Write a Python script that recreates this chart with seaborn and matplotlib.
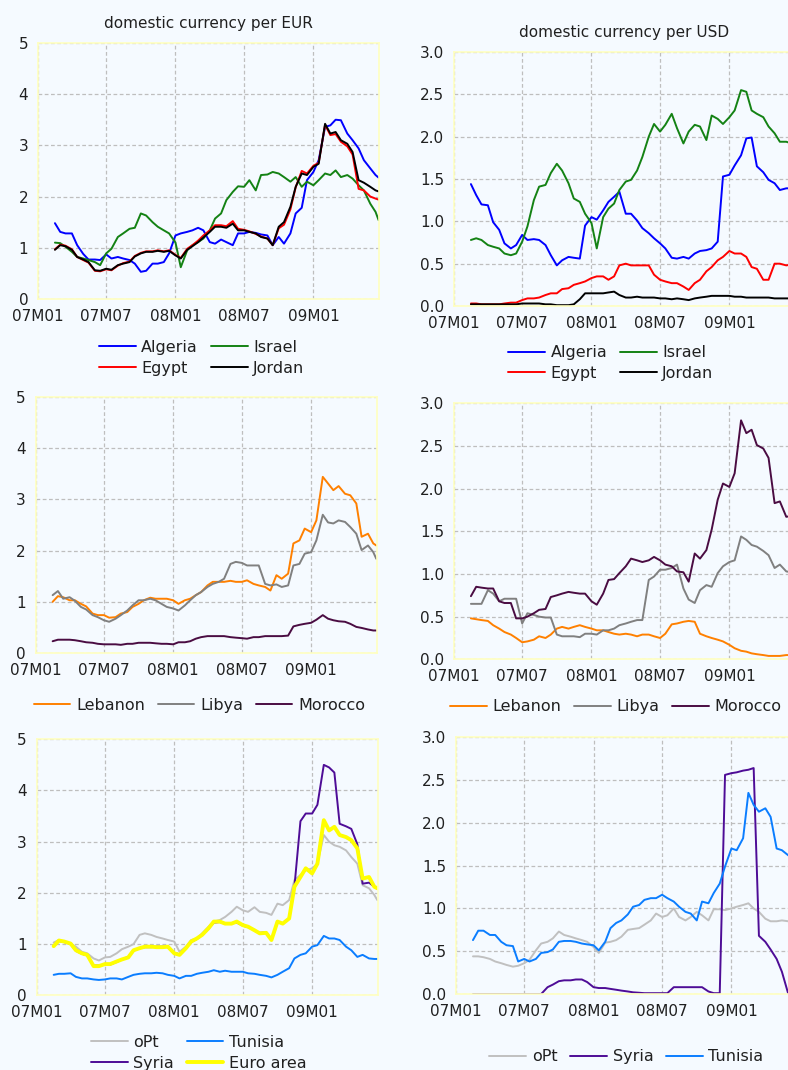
import pandas as pd
import matplotlib.pyplot as plt
import matplotlib.dates as mdates
import matplotlib.ticker as mticker
import seaborn as sns

# semi-monthly observation dates (1st and 15th), last one 23 June 2009
dates = list(pd.date_range("2007-02-15", "2009-06-15", freq="SMS")) + [pd.Timestamp("2009-06-23")]

# ---- domestic currency per EUR ----
algeria_eur = [1.48, 1.31, 1.28, 1.28, 1.05, 0.88, 0.77, 0.77, 0.76, 0.87, 0.79, 0.82, 0.79, 0.76, 0.69, 0.53, 0.55, 0.69, 0.69, 0.72, 0.89,
               1.24, 1.28, 1.31, 1.34, 1.39, 1.34, 1.11, 1.08, 1.16, 1.11, 1.05, 1.28, 1.28, 1.31, 1.29, 1.26, 1.24, 1.05, 1.21, 1.08, 1.28, 1.67, 1.78, 2.32,
               2.48, 2.71, 3.36, 3.39, 3.50, 3.49, 3.23, 3.10, 2.94, 2.71, 2.55, 2.42, 2.37]
israel_eur = [1.10, 1.09, 1.02, 0.92, 0.82, 0.79, 0.76, 0.72, 0.66, 0.89, 0.98, 1.21, 1.28, 1.37, 1.39, 1.67, 1.63, 1.50, 1.41, 1.34, 1.28,
              1.10, 0.62, 0.95, 1.05, 1.11, 1.18, 1.34, 1.57, 1.67, 1.93, 2.09, 2.20, 2.19, 2.32, 2.12, 2.42, 2.43, 2.48, 2.45, 2.38, 2.29, 2.38, 2.19, 2.29,
              2.22, 2.32, 2.45, 2.42, 2.51, 2.38, 2.42, 2.35, 2.22, 2.12, 1.86, 1.70, 1.54]
egypt_eur = [0.97, 1.06, 1.04, 0.97, 0.82, 0.76, 0.71, 0.55, 0.54, 0.58, 0.56, 0.65, 0.70, 0.73, 0.84, 0.90, 0.93, 0.93, 0.95, 0.93, 0.95,
             0.86, 0.80, 0.98, 1.05, 1.14, 1.24, 1.34, 1.44, 1.44, 1.42, 1.52, 1.37, 1.35, 1.32, 1.27, 1.22, 1.18, 1.05, 1.38, 1.45, 1.75, 2.18, 2.50, 2.45,
             2.60, 2.66, 3.40, 3.20, 3.22, 3.07, 2.98, 2.82, 2.15, 2.12, 2.00, 1.96, 1.94]
jordan_eur = [0.96, 1.05, 1.03, 0.96, 0.82, 0.77, 0.72, 0.56, 0.55, 0.59, 0.57, 0.66, 0.69, 0.72, 0.83, 0.89, 0.92, 0.92, 0.94, 0.92, 0.94,
              0.85, 0.79, 0.96, 1.03, 1.11, 1.20, 1.31, 1.41, 1.41, 1.39, 1.47, 1.34, 1.34, 1.31, 1.28, 1.21, 1.18, 1.05, 1.41, 1.50, 1.80, 2.19, 2.45, 2.42,
              2.58, 2.64, 3.42, 3.23, 3.26, 3.10, 3.03, 2.87, 2.32, 2.27, 2.19, 2.12, 2.10]
lebanon_eur = [1.00, 1.11, 1.09, 1.03, 1.03, 0.96, 0.91, 0.77, 0.74, 0.74, 0.69, 0.70, 0.77, 0.80, 0.90, 0.96, 1.03, 1.08, 1.06, 1.06, 1.06,
               1.03, 0.96, 1.03, 1.06, 1.13, 1.19, 1.32, 1.39, 1.39, 1.39, 1.41, 1.39, 1.39, 1.42, 1.35, 1.32, 1.29, 1.22, 1.52, 1.45, 1.55, 2.14, 2.20, 2.43,
               2.36, 2.59, 3.44, 3.31, 3.18, 3.26, 3.11, 3.08, 2.92, 2.27, 2.33, 2.14, 2.10]
libya_eur = [1.13, 1.21, 1.06, 1.09, 1.02, 0.90, 0.85, 0.74, 0.70, 0.64, 0.61, 0.67, 0.74, 0.83, 0.93, 1.03, 1.03, 1.06, 1.03, 0.96, 0.90,
             0.87, 0.83, 0.93, 1.03, 1.13, 1.19, 1.29, 1.35, 1.39, 1.45, 1.74, 1.78, 1.76, 1.71, 1.71, 1.71, 1.35, 1.32, 1.34, 1.29, 1.32, 1.71, 1.74, 1.94,
             1.97, 2.20, 2.70, 2.55, 2.53, 2.59, 2.56, 2.46, 2.33, 2.01, 2.10, 1.97, 1.84]
morocco_eur = [0.23, 0.26, 0.26, 0.26, 0.25, 0.23, 0.21, 0.20, 0.18, 0.17, 0.17, 0.17, 0.16, 0.18, 0.18, 0.20, 0.20, 0.20, 0.19, 0.18, 0.18,
               0.17, 0.21, 0.21, 0.23, 0.28, 0.31, 0.33, 0.33, 0.33, 0.33, 0.31, 0.30, 0.29, 0.28, 0.31, 0.31, 0.33, 0.33, 0.33, 0.33, 0.34, 0.52, 0.55, 0.57,
               0.59, 0.65, 0.74, 0.67, 0.64, 0.62, 0.61, 0.57, 0.51, 0.49, 0.46, 0.44, 0.44]
opt_eur = [1.03, 1.08, 1.05, 1.01, 0.95, 0.85, 0.82, 0.72, 0.68, 0.74, 0.75, 0.82, 0.90, 0.95, 1.00, 1.18, 1.21, 1.18, 1.14, 1.11, 1.08,
           1.05, 0.85, 0.95, 1.08, 1.11, 1.21, 1.34, 1.44, 1.47, 1.53, 1.63, 1.73, 1.66, 1.63, 1.72, 1.63, 1.61, 1.57, 1.79, 1.76, 1.86, 2.25, 2.35, 2.44,
           2.48, 2.57, 3.13, 3.00, 2.93, 2.90, 2.83, 2.70, 2.57, 2.15, 2.09, 1.96, 1.86]
tunisia_eur = [0.40, 0.42, 0.42, 0.43, 0.36, 0.33, 0.33, 0.31, 0.30, 0.31, 0.33, 0.33, 0.31, 0.36, 0.40, 0.42, 0.43, 0.43, 0.44, 0.43, 0.40,
               0.38, 0.33, 0.38, 0.38, 0.42, 0.44, 0.46, 0.49, 0.46, 0.48, 0.46, 0.46, 0.46, 0.43, 0.42, 0.40, 0.38, 0.35, 0.40, 0.46, 0.53, 0.72, 0.79, 0.82,
               0.95, 0.98, 1.16, 1.11, 1.11, 1.08, 0.95, 0.88, 0.75, 0.79, 0.72, 0.71, 0.71]
syria_eur = [0.97, 1.06, 1.04, 1.00, 0.87, 0.81, 0.78, 0.58, 0.58, 0.60, 0.60, 0.65, 0.70, 0.75, 0.87, 0.92, 0.94, 0.94, 0.95, 0.95, 0.94,
             0.83, 0.80, 0.92, 1.04, 1.10, 1.18, 1.30, 1.42, 1.43, 1.40, 1.41, 1.42, 1.36, 1.33, 1.27, 1.22, 1.23, 1.09, 1.43, 1.40, 1.50, 2.12, 3.40, 3.55,
             3.55, 3.72, 4.50, 4.45, 4.35, 3.35, 3.30, 3.25, 2.95, 2.18, 2.20, 2.12, 2.09]
euro_eur = [0.96, 1.07, 1.05, 1.01, 0.88, 0.82, 0.79, 0.57, 0.57, 0.61, 0.61, 0.66, 0.70, 0.74, 0.88, 0.92, 0.95, 0.95, 0.94, 0.94, 0.95,
            0.82, 0.79, 0.92, 1.05, 1.11, 1.18, 1.31, 1.44, 1.44, 1.40, 1.40, 1.44, 1.37, 1.34, 1.27, 1.21, 1.22, 1.08, 1.44, 1.40, 1.50, 2.12, 2.31, 2.48,
            2.38, 2.57, 3.42, 3.22, 3.29, 3.13, 3.09, 3.03, 2.87, 2.28, 2.31, 2.12, 2.09]

# ---- domestic currency per USD ----
algeria_usd = [1.44, 1.31, 1.20, 1.19, 0.99, 0.90, 0.74, 0.68, 0.72, 0.84, 0.78, 0.79, 0.78, 0.72, 0.60, 0.48, 0.54, 0.58, 0.57, 0.56, 0.95,
               1.05, 1.02, 1.13, 1.23, 1.29, 1.35, 1.09, 1.09, 1.01, 0.92, 0.86, 0.80, 0.74, 0.68, 0.57, 0.56, 0.58, 0.56, 0.62, 0.65, 0.66, 0.68, 0.76, 1.53,
               1.55, 1.66, 1.78, 1.98, 1.99, 1.65, 1.58, 1.49, 1.45, 1.37, 1.39, 1.39, 1.40]
israel_usd = [0.78, 0.80, 0.78, 0.72, 0.70, 0.68, 0.62, 0.60, 0.62, 0.76, 0.94, 1.25, 1.41, 1.43, 1.57, 1.68, 1.60, 1.45, 1.27, 1.23, 1.09,
              0.98, 0.68, 1.05, 1.15, 1.21, 1.37, 1.47, 1.49, 1.60, 1.76, 2.00, 2.15, 2.06, 2.14, 2.27, 2.10, 1.92, 2.06, 2.14, 2.12, 1.96, 2.25, 2.21, 2.15,
              2.23, 2.31, 2.55, 2.53, 2.31, 2.27, 2.23, 2.12, 2.04, 1.94, 1.94, 1.92, 1.92]
egypt_usd = [0.03, 0.03, 0.02, 0.02, 0.02, 0.02, 0.03, 0.04, 0.04, 0.07, 0.09, 0.09, 0.10, 0.13, 0.15, 0.15, 0.20, 0.21, 0.25, 0.27, 0.29,
             0.33, 0.35, 0.35, 0.31, 0.35, 0.48, 0.50, 0.48, 0.48, 0.48, 0.48, 0.37, 0.31, 0.29, 0.27, 0.27, 0.23, 0.19, 0.27, 0.31, 0.41, 0.46, 0.54, 0.58,
             0.65, 0.62, 0.62, 0.58, 0.46, 0.44, 0.31, 0.31, 0.50, 0.50, 0.48, 0.49, 0.50]
jordan_usd = [0.02, 0.02, 0.02, 0.02, 0.02, 0.02, 0.02, 0.02, 0.02, 0.03, 0.03, 0.03, 0.03, 0.02, 0.02, 0.01, 0.01, 0.01, 0.02, 0.08, 0.15,
              0.15, 0.15, 0.15, 0.16, 0.17, 0.13, 0.10, 0.10, 0.11, 0.10, 0.10, 0.10, 0.09, 0.09, 0.08, 0.09, 0.08, 0.07, 0.09, 0.10, 0.11, 0.12, 0.12, 0.12,
              0.12, 0.11, 0.11, 0.10, 0.10, 0.10, 0.10, 0.10, 0.09, 0.09, 0.09, 0.09, 0.09]
lebanon_usd = [0.48, 0.47, 0.46, 0.45, 0.40, 0.36, 0.32, 0.29, 0.25, 0.20, 0.21, 0.23, 0.27, 0.25, 0.29, 0.36, 0.38, 0.36, 0.38, 0.40, 0.38,
               0.36, 0.34, 0.34, 0.32, 0.30, 0.29, 0.30, 0.29, 0.27, 0.29, 0.29, 0.27, 0.25, 0.30, 0.41, 0.42, 0.44, 0.45, 0.44, 0.30, 0.27, 0.25, 0.23, 0.21,
               0.17, 0.13, 0.10, 0.09, 0.07, 0.06, 0.05, 0.04, 0.04, 0.04, 0.05, 0.05, 0.05]
libya_usd = [0.65, 0.65, 0.65, 0.81, 0.77, 0.68, 0.71, 0.71, 0.71, 0.42, 0.54, 0.52, 0.50, 0.49, 0.49, 0.29, 0.27, 0.27, 0.27, 0.26, 0.30,
             0.30, 0.29, 0.34, 0.34, 0.36, 0.40, 0.42, 0.44, 0.46, 0.46, 0.93, 0.97, 1.05, 1.05, 1.07, 1.11, 0.83, 0.70, 0.66, 0.81, 0.87, 0.85, 1.01, 1.09,
             1.14, 1.16, 1.44, 1.40, 1.34, 1.32, 1.27, 1.22, 1.07, 1.11, 1.03, 1.02, 1.02]
morocco_usd = [0.74, 0.85, 0.84, 0.83, 0.83, 0.68, 0.66, 0.66, 0.48, 0.48, 0.50, 0.54, 0.58, 0.59, 0.73, 0.75, 0.77, 0.79, 0.78, 0.77, 0.77,
               0.68, 0.64, 0.77, 0.93, 0.94, 1.01, 1.09, 1.18, 1.16, 1.14, 1.16, 1.20, 1.16, 1.11, 1.09, 1.03, 1.02, 0.91, 1.24, 1.18, 1.28, 1.52, 1.87, 2.06,
               2.02, 2.18, 2.80, 2.65, 2.69, 2.51, 2.47, 2.36, 1.83, 1.85, 1.67, 1.68, 1.70]
opt_usd = [0.44, 0.44, 0.43, 0.41, 0.38, 0.36, 0.34, 0.32, 0.33, 0.36, 0.40, 0.51, 0.59, 0.61, 0.65, 0.73, 0.69, 0.67, 0.65, 0.63, 0.61,
           0.55, 0.48, 0.60, 0.61, 0.63, 0.67, 0.75, 0.76, 0.77, 0.81, 0.86, 0.94, 0.90, 0.92, 1.00, 0.90, 0.86, 0.90, 0.96, 0.92, 0.86, 0.99, 0.99, 0.98,
           1.00, 1.02, 1.04, 1.06, 1.00, 0.96, 0.88, 0.85, 0.85, 0.86, 0.85, 0.84, 0.84]
syria_usd = [0, 0, 0, 0, 0, 0, 0, 0, 0, 0, 0, 0, 0, 0.08, 0.11, 0.15, 0.16, 0.16, 0.17, 0.17, 0.14,
             0.08, 0.07, 0.07, 0.06, 0.05, 0.04, 0.03, 0.02, 0.015, 0.01, 0.01, 0.01, 0.01, 0.01, 0.08, 0.08, 0.08, 0.08, 0.08, 0.08, 0.03, 0.01, 0.01, 2.56,
             2.58, 2.59, 2.61, 2.62, 2.64, 0.68, 0.61, 0.52, 0.41, 0.26, 0.0, 0.0, 0.0]
tunisia_usd = [0.63, 0.74, 0.74, 0.69, 0.69, 0.61, 0.57, 0.56, 0.38, 0.41, 0.38, 0.41, 0.48, 0.49, 0.52, 0.61, 0.62, 0.62, 0.61, 0.59, 0.58,
               0.57, 0.51, 0.61, 0.77, 0.83, 0.86, 0.93, 1.02, 1.04, 1.10, 1.12, 1.12, 1.16, 1.12, 1.08, 1.02, 0.96, 0.94, 0.86, 1.08, 1.06, 1.18, 1.29, 1.49,
               1.70, 1.68, 1.82, 2.35, 2.21, 2.13, 2.17, 2.07, 1.70, 1.68, 1.62, 1.60, 1.60]

colors = {"Algeria": "#0000FF", "Israel": "#148214", "Egypt": "#FF0000", "Jordan": "#000000",
          "Lebanon": "#FF8000", "Libya": "#808080", "Morocco": "#4A0C42",
          "oPt": "#C0C0C0", "Tunisia": "#0A7DFF", "Syria": "#4E0C96", "Euro area": "#FFFF00"}

bg = "#F5FAFF"
edge = "#FFFFC0"
txt = "#202020"

sns.set_style("white")
plt.rcParams["font.family"] = ["DejaVu Sans"]

fig = plt.figure(figsize=(7.88, 10.70), dpi=100, facecolor=bg)


def month_label(x, pos):
    d = mdates.num2date(x)
    return f"{d.year % 100:02d}M{d.month:02d}"


def panel(rect, series, ymax, ystep, yfmt, order, ncol, anchor, title=None):
    ax = fig.add_axes(rect)
    ax.set_facecolor(bg)
    for name, vals, lw in series:
        sns.lineplot(x=dates, y=vals, color=colors[name], linewidth=lw, label=name, ax=ax)
    ax.set_xlim(pd.Timestamp("2007-01-01"), pd.Timestamp("2009-06-24"))
    ax.set_ylim(0, ymax)
    ax.yaxis.set_major_locator(mticker.MultipleLocator(ystep))
    ax.yaxis.set_major_formatter(mticker.FormatStrFormatter(yfmt))
    ax.xaxis.set_major_locator(mdates.MonthLocator(bymonth=[1, 7]))
    ax.xaxis.set_minor_locator(mdates.MonthLocator())
    ax.xaxis.set_major_formatter(mticker.FuncFormatter(month_label))
    ax.set_xlabel("")
    ax.set_ylabel("")
    ax.grid(True, which="major", color="#BEBEBE", linestyle=(0, (3, 2)), linewidth=0.9)
    for s in ax.spines.values():
        s.set_color(edge)
        s.set_linewidth(1.2)
    ax.tick_params(axis="both", which="major", labelsize=11, labelcolor=txt, color=edge,
                   length=4, width=1, direction="out", pad=3)
    ax.tick_params(axis="x", which="minor", color=edge, length=2.5, width=1, direction="in")
    if title:
        ax.set_title(title, fontsize=11, color=txt, pad=11)
    handles, labels = ax.get_legend_handles_labels()
    lookup = dict(zip(labels, handles))
    ax.legend([lookup[n] for n in order], order, loc="upper center", bbox_to_anchor=anchor,
              ncol=ncol, frameon=False, fontsize=11.5, handlelength=2.3, handletextpad=0.35,
              columnspacing=0.8, labelspacing=0.35, borderaxespad=0, labelcolor=txt)
    return ax


lw = 1.4
panel([0.0482, 0.7206, 0.4327, 0.2393],
      [("Algeria", algeria_eur, lw), ("Israel", israel_eur, lw), ("Egypt", egypt_eur, lw), ("Jordan", jordan_eur, lw)],
      5, 1, "%d", ["Algeria", "Egypt", "Israel", "Jordan"], 2, (0.48, -0.135),
      title="domestic currency per EUR")
panel([0.5761, 0.7140, 0.4327, 0.2374],
      [("Algeria", algeria_usd, lw), ("Israel", israel_usd, lw), ("Egypt", egypt_usd, lw), ("Jordan", jordan_usd, lw)],
      3, 0.5, "%.1f", ["Algeria", "Egypt", "Israel", "Jordan"], 2, (0.46, -0.13),
      title="domestic currency per USD")
panel([0.0453, 0.3897, 0.4327, 0.2393],
      [("Lebanon", lebanon_eur, lw), ("Libya", libya_eur, lw), ("Morocco", morocco_eur, lw)],
      5, 1, "%d", ["Lebanon", "Libya", "Morocco"], 3, (0.48, -0.151))
panel([0.5761, 0.3838, 0.4327, 0.2393],
      [("Lebanon", lebanon_usd, lw), ("Libya", libya_usd, lw), ("Morocco", morocco_usd, lw)],
      3, 0.5, "%.1f", ["Lebanon", "Libya", "Morocco"], 3, (0.475, -0.131))
panel([0.0466, 0.0698, 0.4327, 0.2393],
      [("oPt", opt_eur, lw), ("Tunisia", tunisia_eur, lw), ("Syria", syria_eur, lw), ("Euro area", euro_eur, 2.8)],
      5, 1, "%d", ["oPt", "Syria", "Tunisia", "Euro area"], 2, (0.475, -0.13))
panel([0.5787, 0.0710, 0.4327, 0.2400],
      [("oPt", opt_usd, lw), ("Syria", syria_usd, lw), ("Tunisia", tunisia_usd, lw)],
      3, 0.5, "%.1f", ["oPt", "Syria", "Tunisia"], 3, (0.5, -0.19))

fig.savefig("out.png", dpi=100, facecolor=bg)
